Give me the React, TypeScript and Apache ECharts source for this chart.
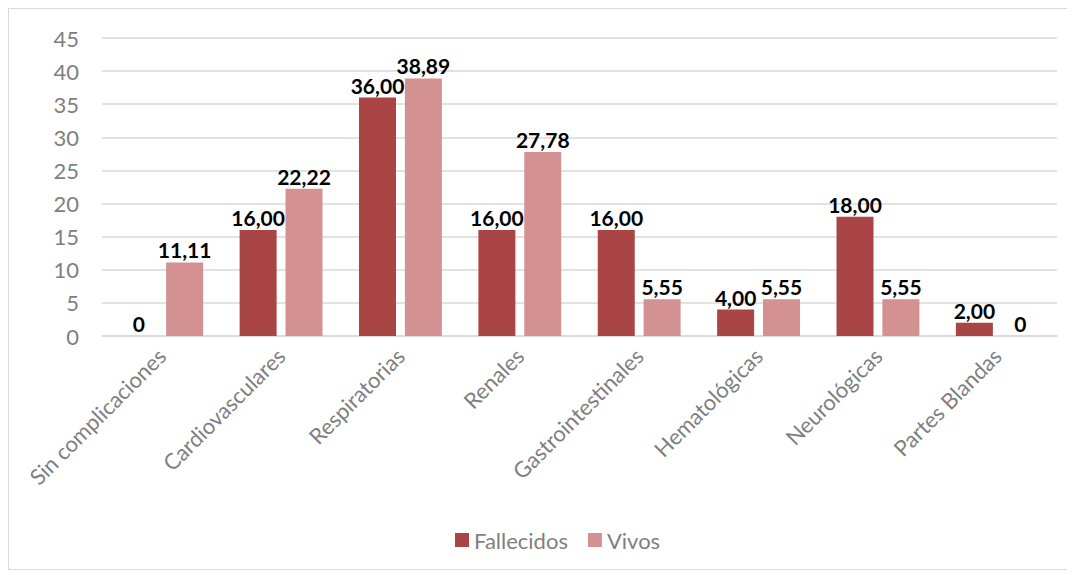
import React, { useEffect, useRef } from "react";
import * as echarts from "echarts";

const categories = [
  "Sin complicaciones",
  "Cardiovasculares",
  "Respiratorias",
  "Renales",
  "Gastrointestinales",
  "Hematológicas",
  "Neurológicas",
  "Partes Blandas",
];
const fallecidos = [0, 16, 36, 16, 16, 4, 18, 2];
const vivos = [11.11, 22.22, 38.89, 27.78, 5.55, 5.55, 5.55, 0];
const yTicks = { min: 0, max: 45, interval: 5 };

const FONT = "Lato, 'Open Sans', sans-serif";

function fmt(v: number): string {
  if (v === 0) return "0";
  return v.toFixed(2).replace(".", ",");
}

export default function App() {
  const ref = useRef<HTMLDivElement>(null);
  useEffect(() => {
    if (!ref.current) return;
    const chart = echarts.init(ref.current, undefined, { renderer: "svg" });
    const label = {
      show: true,
      position: "top" as const,
      distance: 2,
      color: "#000",
      fontWeight: "bold" as const,
      fontSize: 21,
      fontFamily: FONT,
      formatter: (p: any) => fmt(p.value),
    };
    chart.setOption({
      animation: false,
      backgroundColor: "#fff",
      grid: { left: 93, right: 11, top: 29, bottom: 233, containLabel: false },
      legend: {
        bottom: 13,
        left: 441,
        itemWidth: 14,
        itemHeight: 14,
        itemGap: 20,
        icon: "rect",
        textStyle: { color: "#7f7f7f", fontSize: 22, fontFamily: FONT },
        data: ["Fallecidos", "Vivos"],
      },
      xAxis: {
        type: "category",
        data: categories,
        axisLine: { show: true, lineStyle: { color: "#d9d9d9", width: 1.5 } },
        axisTick: { show: false },
        axisLabel: {
          rotate: 45,
          interval: 0,
          margin: 16,
          color: "#7f7f7f",
          fontSize: 22,
          fontFamily: FONT,
        },
      },
      yAxis: {
        type: "value",
        min: yTicks.min,
        max: yTicks.max,
        interval: yTicks.interval,
        axisLine: { show: false },
        axisTick: { show: false },
        splitLine: { lineStyle: { color: "#d9d9d9", width: 1.5 } },
        axisLabel: { color: "#7f7f7f", fontSize: 22, fontFamily: FONT, margin: 23 },
      },
      series: [
        {
          name: "Fallecidos",
          type: "bar",
          data: fallecidos,
          barWidth: 37,
          barGap: "24%",
          itemStyle: { color: "#a94545" },
          label,
        },
        {
          name: "Vivos",
          type: "bar",
          data: vivos,
          barWidth: 37,
          barGap: "24%",
          itemStyle: { color: "#d39191" },
          label,
        },
      ],
    });
    return () => chart.dispose();
  }, []);
  return (
    <div
      ref={ref}
      style={{
        width: 1061,
        height: 562,
        border: "1.5px solid #d9d9d9",
        boxSizing: "border-box",
      }}
    />
  );
}
